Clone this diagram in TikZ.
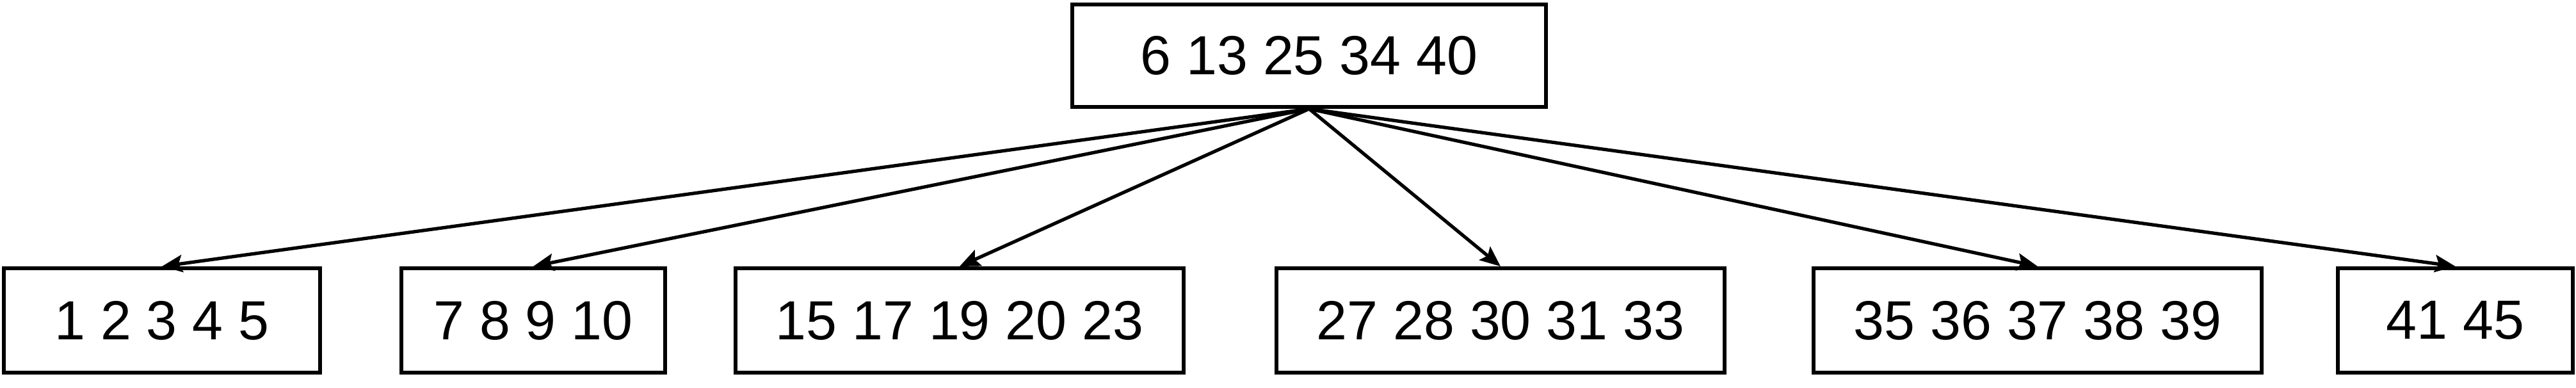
\documentclass[tikz,border=0pt]{standalone}
\usepackage{fontspec}
\setmainfont{Liberation Sans}
\usetikzlibrary{arrows.meta}
\begin{document}
\begin{tikzpicture}[
  keybox/.style={draw, line width=1.7pt, inner sep=0pt, font=\fontsize{24.5}{29}\selectfont, anchor=center},
  rootbox/.style={keybox, minimum width=7.40cm, minimum height=1.60cm},
  leafbox/.style={keybox, minimum height=1.63cm},
  link/.style={line width=1.5pt, -{Stealth[length=0.32cm, width=0.27cm, inset=0.06cm]}}
]
\useasboundingbox (0,0) rectangle (40.24,6.05);
\node[rootbox] (root) at (20.45,5.18) {6 13 25 34 40};
\node[leafbox, minimum width=4.935cm] (l1) at (2.53,1.045) {1 2 3 4 5};
\node[leafbox, minimum width=4.12cm] (l2) at (8.33,1.045) {7 8 9 10};
\node[leafbox, minimum width=7.00cm] (l3) at (14.99,1.045) {15 17 19 20 23};
\node[leafbox, minimum width=7.00cm] (l4) at (23.44,1.045) {27 28 30 31 33};
\node[leafbox, minimum width=7.00cm] (l5) at (31.83,1.045) {35 36 37 38 39};
\node[leafbox, minimum width=3.67cm] (l6) at (38.355,1.045) {41 45};
\foreach \n in {l1,l2,l3,l4,l5,l6}
  \draw[link] (root.south) -- (\n.north);
\end{tikzpicture}
\end{document}
